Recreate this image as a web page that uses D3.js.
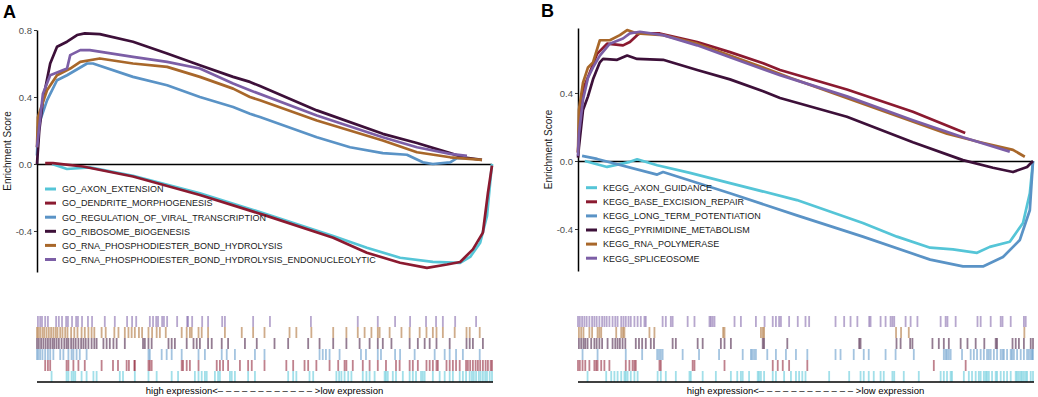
<!DOCTYPE html>
<html>
<head>
<meta charset="utf-8">
<script src="https://cdn.jsdelivr.net/npm/d3@7"></script>
<style>
  body { margin: 0; background: #fff; }
  text { font-family: 'Liberation Sans', Arial, sans-serif; }
</style>
</head>
<body>
<div id="viz"></div>
<script>
const width = 1038;
const height = 397;

// ---- data: running enrichment score, [rank (per mille), ES] ----
const goNames = [
  'GO_AXON_EXTENSION',
  'GO_DENDRITE_MORPHOGENESIS',
  'GO_REGULATION_OF_VIRAL_TRANSCRIPTION',
  'GO_RIBOSOME_BIOGENESIS',
  'GO_RNA_PHOSPHODIESTER_BOND_HYDROLYSIS',
  'GO_RNA_PHOSPHODIESTER_BOND_HYDROLYSIS_ENDONUCLEOLYTIC'
];
const keggNames = [
  'KEGG_AXON_GUIDANCE',
  'KEGG_BASE_EXCISION_REPAIR',
  'KEGG_LONG_TERM_POTENTIATION',
  'KEGG_PYRIMIDINE_METABOLISM',
  'KEGG_RNA_POLYMERASE',
  'KEGG_SPLICEOSOME'
];
const seriesColors = ['#55c5d7', '#8b1a30', '#5a93c6', '#3d1039', '#a8672a', '#7c5ea6'];

const goAxonExtension = [[33,0],[66,-0.03],[116,-0.02],[211,-0.07],[358,-0.175],[505,-0.30],[651,-0.43],[725,-0.50],[798,-0.56],[870,-0.585],[930,-0.59],[952,-0.555],[974,-0.47],[989,-0.31],[996,-0.11],[1000,0]];
const goDendrite = [[18,0.005],[35,0.005],[101,-0.015],[211,-0.075],[358,-0.185],[505,-0.31],[651,-0.44],[725,-0.53],[798,-0.59],[857,-0.62],[901,-0.60],[930,-0.585],[958,-0.51],[980,-0.41],[991,-0.175],[1000,-0.01]];
const goViral = [[0,0.05],[2,0.22],[22,0.38],[44,0.50],[66,0.53],[110,0.60],[123,0.60],[211,0.52],[286,0.47],[358,0.40],[431,0.34],[468,0.30],[490,0.28],[615,0.16],[688,0.10],[760,0.065],[813,0.055],[848,0.01],[870,0.0],[908,0.01],[923,0.035],[945,0.035]];
const goRibosome = [[0,0],[5,0.2],[13,0.38],[29,0.60],[44,0.70],[66,0.73],[88,0.77],[105,0.78],[138,0.775],[211,0.73],[286,0.66],[358,0.59],[431,0.52],[468,0.49],[490,0.465],[615,0.32],[760,0.18],[835,0.125],[908,0.065],[936,0.04],[978,0.025]];
const goRnaHydrolysis = [[0,0.1],[2,0.28],[22,0.44],[44,0.53],[73,0.57],[95,0.61],[138,0.63],[211,0.60],[286,0.58],[358,0.52],[431,0.45],[468,0.40],[490,0.38],[615,0.26],[760,0.14],[835,0.07],[908,0.04],[978,0.025]];
const goRnaEndo = [[0,0.1],[13,0.42],[29,0.53],[66,0.57],[73,0.65],[95,0.68],[116,0.68],[211,0.64],[286,0.61],[358,0.57],[431,0.48],[468,0.44],[615,0.29],[760,0.16],[835,0.10],[908,0.06],[945,0.048]];

const keggAxonGuidance = [[15,0],[64,-0.035],[114,-0.005],[130,0.01],[174,-0.025],[246,-0.07],[334,-0.13],[481,-0.23],[626,-0.365],[701,-0.445],[774,-0.51],[824,-0.52],[877,-0.54],[905,-0.505],[949,-0.475],[978,-0.365],[993,-0.19],[1000,0]];
const keggBaseExcision = [[0,0.05],[4,0.25],[11,0.42],[26,0.52],[42,0.63],[64,0.69],[99,0.68],[114,0.70],[130,0.74],[136,0.75],[180,0.75],[262,0.70],[334,0.64],[407,0.575],[444,0.535],[591,0.42],[736,0.29],[851,0.165]];
const keggLtp = [[9,0.03],[42,0.012],[174,-0.08],[187,-0.065],[334,-0.19],[481,-0.32],[626,-0.445],[774,-0.58],[846,-0.62],[890,-0.62],[934,-0.565],[971,-0.465],[993,-0.29],[1000,0]];
const keggPyrimidine = [[0,0.02],[2,0.08],[11,0.30],[22,0.38],[33,0.48],[48,0.58],[55,0.60],[86,0.595],[108,0.62],[130,0.60],[187,0.595],[262,0.535],[334,0.48],[407,0.41],[444,0.37],[591,0.26],[736,0.11],[846,0.005],[912,-0.04],[956,-0.065],[987,-0.035],[1000,0]];
const keggRnaPol = [[0,0.05],[2,0.30],[11,0.46],[22,0.55],[33,0.58],[48,0.71],[70,0.71],[92,0.74],[108,0.77],[130,0.75],[187,0.74],[262,0.69],[334,0.62],[407,0.55],[466,0.49],[686,0.28],[811,0.16],[884,0.11],[956,0.065],[982,0.025]];
const keggSpliceosome = [[0,0.03],[2,0.16],[11,0.36],[22,0.49],[33,0.55],[48,0.62],[70,0.69],[99,0.72],[114,0.75],[136,0.76],[187,0.74],[262,0.68],[334,0.61],[407,0.54],[444,0.505],[591,0.38],[736,0.24],[846,0.14],[949,0.055]];

// ---- data: gene set hits along the ranked list (per mille) ----
const goAxonExtensionHits = [32,65,69,76,80,84,98,109,124,131,182,189,215,245,263,296,310,347,355,362,369,373,391,398,402,424,428,435,464,479,552,563,570,599,607,658,664,669,676,684,691,716,724,731,742,764,767,771,782,789,804,819,826,833,844,848,852,870,885,896,907,914,929,936,943,951,956,960,965,971,975,980,985,989,995,1000];
const goDendriteHits = [18,24,29,65,69,80,91,105,142,167,178,197,202,214,215,245,248,252,318,321,329,336,355,395,402,409,420,446,464,472,500,548,563,588,596,614,643,662,676,680,694,716,731,749,767,789,797,819,826,837,856,863,870,878,881,900,907,914,921,929,943,947,952,958,964,969,974,980,986,991,997,1000];
const goViralHits = [0,3,7,12,18,24,29,36,51,58,69,76,80,87,94,109,245,248,274,285,296,318,355,369,406,417,435,479,500,621,628,635,643,665,712,723,749,756,787,798,830,874,896,907,921,936,973];
const goRibosomeHits = [0,4,9,14,19,24,29,34,38,43,48,54,60,65,69,75,80,85,91,97,102,107,113,120,126,131,146,153,160,168,175,193,233,237,245,252,289,296,303,329,344,351,358,376,384,406,420,457,483,522,552,596,621,651,680,709,731,749,760,779,819,837,852,863,878,907,944,951,958,980];
const goRnaHydrolysisHits = [0,3,7,12,16,21,26,31,36,41,45,51,56,62,67,75,82,89,98,105,113,120,126,142,151,170,179,193,201,208,215,224,231,245,253,263,270,283,318,329,336,340,355,362,376,413,450,475,500,555,570,603,651,680,705,720,735,749,753,775,801,819,841,856,870,878,892,918,944,951,973];
const goRnaEndoHits = [2,7,11,18,24,42,48,55,64,68,77,86,90,99,112,121,149,171,198,209,218,248,255,262,266,275,279,286,308,330,332,341,363,376,407,413,475,512,602,705,749,787,820,855,877,892,919,965];

const keggAxonGuidanceHits = [21,62,73,80,87,95,102,105,109,116,124,131,175,182,193,215,245,248,274,303,336,350,358,362,376,395,398,402,409,428,435,453,468,479,486,493,500,552,596,621,628,639,650,665,672,691,695,716,749,797,804,811,819,822,848,859,866,874,881,885,892,896,899,903,910,918,921,929,936,943,951,962,965,969,973,976,980,984,987,995,1000];
const keggBaseExcisionHits = [0,4,10,16,25,36,40,43,51,58,69,105,113,120,124,127,179,182,252,256,322,428,439,450,464,504,782,852];
const keggLtpHits = [10,43,105,141,174,178,182,186,230,266,310,362,380,383,387,391,416,435,457,479,504,566,577,606,628,639,676,698,738,804,808,811,815,819,844,863,870,877,885,892,899,903,907,914,921,929,933,936,943,951,954,958,965,973,980,987,991,995,998,1000];
const keggPyrimidineHits = [2,7,12,16,21,29,36,41,47,53,65,76,82,87,92,98,104,127,134,141,149,160,167,208,215,263,274,314,322,336,406,409,460,618,621,700,709,730,735,779,793,804,815,841,856,874,893,918,921,955,962,969,980,995,1000];
const keggRnaPolHits = [2,7,12,25,31,43,47,51,84,95,99,102,157,168,319,322,402,406,409,699,710,727,981];
const keggSpliceosomeHits = [0,4,9,14,19,25,31,36,41,47,53,58,63,69,76,82,87,95,100,105,111,116,124,131,138,146,149,186,193,204,208,241,256,289,292,296,300,344,358,391,410,428,435,442,446,464,483,500,508,566,585,599,614,640,643,665,676,687,691,695,720,731,746,797,808,812,830,878,885,907,929,933,951,980,984];

const yTicksA = [-0.4, 0, 0.4, 0.8];
const yTicksB = [-0.4, 0, 0.4];

const svg = d3.select('#viz')
  .append('svg')
    .attr('width', width)
    .attr('height', height)
    .attr('viewBox', [0, 0, width, height]);

const drawPanel = (p) => {
  const xScale = d3.scaleLinear().domain([0, 1000]).range([p.x0, p.x1]);
  const yScale = d3.scaleLinear().domain(p.yDomain).range([p.yBottom, p.yTop]);

  // panel tag
  svg.append('text')
    .attr('x', p.tagX)
    .attr('y', p.tagY)
    .attr('font-size', 18)
    .attr('font-weight', 'bold')
    .text(p.tag);

  // zero line
  const y0 = Math.round(yScale(0)) + 0.5;
  svg.append('line')
    .attr('x1', p.x0)
    .attr('x2', p.x1)
    .attr('y1', y0)
    .attr('y2', y0)
    .attr('stroke', '#000')
    .attr('stroke-width', 1.4);

  // y axis
  const yAxis = svg.append('g')
    .attr('transform', `translate(${p.x0}, 0)`)
    .call(d3.axisLeft(yScale)
      .tickValues(p.ticks)
      .tickSize(3)
      .tickSizeOuter(0)
      .tickPadding(2)
      .tickFormat(d => d.toFixed(1)));
  yAxis.select('.domain').attr('stroke', '#000').attr('stroke-width', 1.5);
  yAxis.selectAll('.tick line').attr('stroke', '#333');
  yAxis.selectAll('.tick text')
    .attr('font-size', 9.5)
    .attr('font-family', "'Liberation Sans', Arial, sans-serif")
    .attr('fill', '#4d4d4d');

  svg.append('text')
    .attr('transform', `translate(${p.x0 - 26}, ${(p.yTop + p.yBottom) / 2}) rotate(-90)`)
    .attr('text-anchor', 'middle')
    .attr('font-size', 10)
    .attr('fill', '#1a1a1a')
    .text('Enrichment Score');

  // running score curves
  const line = d3.line()
    .x(d => xScale(d[0]))
    .y(d => yScale(d[1]));

  p.curves.forEach((c, i) => {
    svg.append('path')
      .attr('d', line(c))
      .attr('fill', 'none')
      .attr('stroke', seriesColors[i])
      .attr('stroke-width', 2.7)
      .attr('stroke-linejoin', 'round');
  });

  // legend
  const legend = svg.append('g')
    .attr('transform', `translate(${p.legendX}, ${p.legendY})`);
  p.names.forEach((name, i) => {
    const g = legend.append('g').attr('transform', `translate(0, ${i * 14.1})`);
    g.append('line')
      .attr('x1', 0).attr('x2', 11)
      .attr('stroke', seriesColors[i])
      .attr('stroke-width', 3);
    g.append('text')
      .attr('x', 17)
      .attr('y', 3.3)
      .attr('font-size', 9)
      .attr('fill', '#1a1a1a')
      .text(name);
  });

  // rug of hits, last series on top
  const rowH = 11;
  const n = p.hits.length;
  p.hits.forEach((hits, i) => {
    const row = n - 1 - i;
    svg.append('g')
      .selectAll('rect')
      .data(hits)
      .join('rect')
        .attr('x', d => xScale(d) - 0.9)
        .attr('y', p.rugTop + row * rowH)
        .attr('width', 1.8)
        .attr('height', rowH)
        .attr('fill', seriesColors[i])
        .attr('fill-opacity', 0.55);
  });

  svg.append('line')
    .attr('x1', p.x0)
    .attr('x2', p.x1 + 1)
    .attr('y1', p.rugTop + n * rowH)
    .attr('y2', p.rugTop + n * rowH)
    .attr('stroke', '#000')
    .attr('stroke-width', 1.5);

  const label = svg.append('text')
    .attr('x', (p.x0 + p.x1) / 2)
    .attr('y', p.rugTop + n * rowH + 12)
    .attr('text-anchor', 'middle')
    .attr('font-size', 9.5)
    .attr('fill', '#000');
  label.append('tspan').text('high expression<');
  label.append('tspan').attr('letter-spacing', 2.8).text('––––––––––––');
  label.append('tspan').text('>low expression');
};

drawPanel({
  tag: 'A', tagX: 3, tagY: 18,
  x0: 37, x1: 492, yTop: 30, yBottom: 272, yDomain: [-0.645, 0.8],
  ticks: yTicksA,
  curves: [goAxonExtension, goDendrite, goViral, goRibosome, goRnaHydrolysis, goRnaEndo],
  hits: [goAxonExtensionHits, goDendriteHits, goViralHits, goRibosomeHits, goRnaHydrolysisHits, goRnaEndoHits],
  names: goNames,
  legendX: 45, legendY: 189,
  rugTop: 316
});

drawPanel({
  tag: 'B', tagX: 541, tagY: 17,
  x0: 578, x1: 1033, yTop: 28, yBottom: 271, yDomain: [-0.647, 0.782],
  ticks: yTicksB,
  curves: [keggAxonGuidance, keggBaseExcision, keggLtp, keggPyrimidine, keggRnaPol, keggSpliceosome],
  hits: [keggAxonGuidanceHits, keggBaseExcisionHits, keggLtpHits, keggPyrimidineHits, keggRnaPolHits, keggSpliceosomeHits],
  names: keggNames,
  legendX: 586, legendY: 187.7,
  rugTop: 316
});
</script>
</body>
</html>
